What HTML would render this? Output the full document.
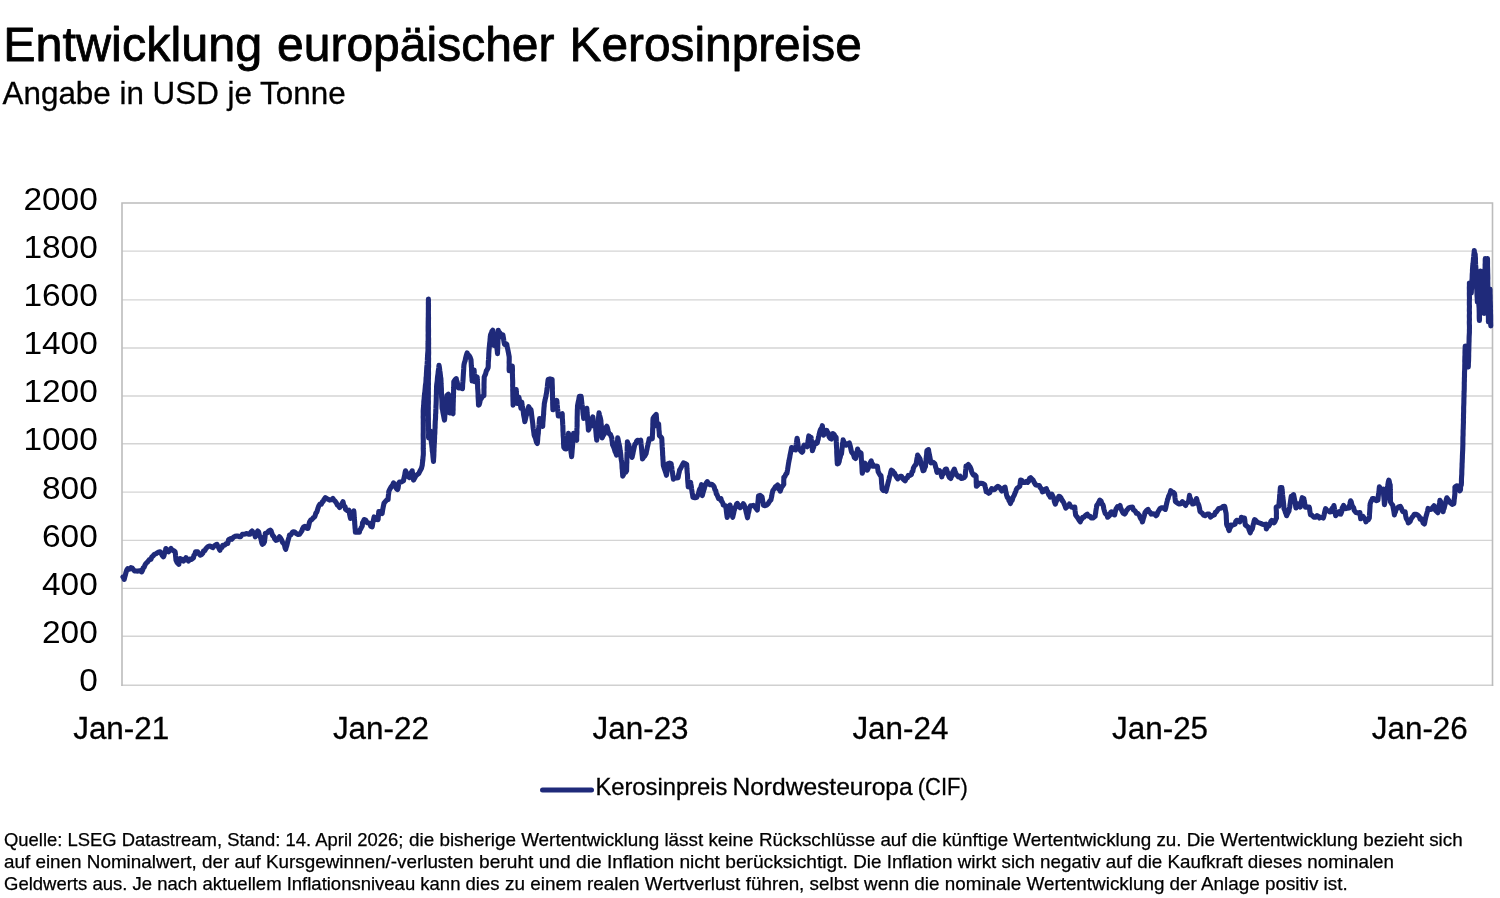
<!DOCTYPE html>
<html lang="de"><head><meta charset="utf-8"><title>Entwicklung europäischer Kerosinpreise</title>
<style>html,body{margin:0;padding:0;background:#fff}body{width:1500px;height:898px;position:relative;overflow:hidden}</style></head>
<body>
<svg width="1500" height="898" viewBox="0 0 1500 898" style="position:absolute;left:0;top:0;font-family:'Liberation Sans',sans-serif">
<rect width="1500" height="898" fill="#fff"/>
<line x1="122.0" x2="1492.5" y1="636.20" y2="636.20" stroke="#d4d4d4" stroke-width="1.35"/>
<line x1="122.0" x2="1492.5" y1="588.40" y2="588.40" stroke="#d4d4d4" stroke-width="1.35"/>
<line x1="122.0" x2="1492.5" y1="540.30" y2="540.30" stroke="#d4d4d4" stroke-width="1.35"/>
<line x1="122.0" x2="1492.5" y1="492.05" y2="492.05" stroke="#d4d4d4" stroke-width="1.35"/>
<line x1="122.0" x2="1492.5" y1="443.70" y2="443.70" stroke="#d4d4d4" stroke-width="1.35"/>
<line x1="122.0" x2="1492.5" y1="396.00" y2="396.00" stroke="#d4d4d4" stroke-width="1.35"/>
<line x1="122.0" x2="1492.5" y1="348.00" y2="348.00" stroke="#d4d4d4" stroke-width="1.35"/>
<line x1="122.0" x2="1492.5" y1="299.90" y2="299.90" stroke="#d4d4d4" stroke-width="1.35"/>
<line x1="122.0" x2="1492.5" y1="251.15" y2="251.15" stroke="#d4d4d4" stroke-width="1.35"/>
<line x1="121.3" x2="1493.2" y1="685.3" y2="685.3" stroke="#d0d0d0" stroke-width="1.5"/>
<path d="M122.0,685.9 V203.03 H1492.5 V685.9" fill="none" stroke="#bcbcbc" stroke-width="1.6" stroke-linejoin="miter"/>
<text x="97.8" y="691.1" font-size="32.2" text-anchor="end" textLength="18.6" lengthAdjust="spacingAndGlyphs" fill="#000">0</text>
<text x="97.8" y="642.9" font-size="32.2" text-anchor="end" textLength="55.800000000000004" lengthAdjust="spacingAndGlyphs" fill="#000">200</text>
<text x="97.8" y="594.8" font-size="32.2" text-anchor="end" textLength="55.800000000000004" lengthAdjust="spacingAndGlyphs" fill="#000">400</text>
<text x="97.8" y="546.6" font-size="32.2" text-anchor="end" textLength="55.800000000000004" lengthAdjust="spacingAndGlyphs" fill="#000">600</text>
<text x="97.8" y="498.5" font-size="32.2" text-anchor="end" textLength="55.800000000000004" lengthAdjust="spacingAndGlyphs" fill="#000">800</text>
<text x="97.8" y="450.3" font-size="32.2" text-anchor="end" textLength="74.4" lengthAdjust="spacingAndGlyphs" fill="#000">1000</text>
<text x="97.8" y="402.1" font-size="32.2" text-anchor="end" textLength="74.4" lengthAdjust="spacingAndGlyphs" fill="#000">1200</text>
<text x="97.8" y="354.0" font-size="32.2" text-anchor="end" textLength="74.4" lengthAdjust="spacingAndGlyphs" fill="#000">1400</text>
<text x="97.8" y="305.8" font-size="32.2" text-anchor="end" textLength="74.4" lengthAdjust="spacingAndGlyphs" fill="#000">1600</text>
<text x="97.8" y="257.7" font-size="32.2" text-anchor="end" textLength="74.4" lengthAdjust="spacingAndGlyphs" fill="#000">1800</text>
<text x="97.8" y="209.5" font-size="32.2" text-anchor="end" textLength="74.4" lengthAdjust="spacingAndGlyphs" fill="#000">2000</text>
<text x="121.2" y="739.4" font-size="31" text-anchor="middle" textLength="96" lengthAdjust="spacingAndGlyphs" fill="#000" stroke="#000" stroke-width="0.3">Jan-21</text>
<text x="380.9" y="739.4" font-size="31" text-anchor="middle" textLength="96" lengthAdjust="spacingAndGlyphs" fill="#000" stroke="#000" stroke-width="0.3">Jan-22</text>
<text x="640.6" y="739.4" font-size="31" text-anchor="middle" textLength="96" lengthAdjust="spacingAndGlyphs" fill="#000" stroke="#000" stroke-width="0.3">Jan-23</text>
<text x="900.4" y="739.4" font-size="31" text-anchor="middle" textLength="96" lengthAdjust="spacingAndGlyphs" fill="#000" stroke="#000" stroke-width="0.3">Jan-24</text>
<text x="1160.1" y="739.4" font-size="31" text-anchor="middle" textLength="96" lengthAdjust="spacingAndGlyphs" fill="#000" stroke="#000" stroke-width="0.3">Jan-25</text>
<text x="1419.8" y="739.4" font-size="31" text-anchor="middle" textLength="96" lengthAdjust="spacingAndGlyphs" fill="#000" stroke="#000" stroke-width="0.3">Jan-26</text>
<path d="M123.0,576.9 L123.49,577.42 L124.2,579.4 L124.72,577.2 L125.21,575.61 L125.63,573.89 L126.13,571.98 L126.7,570.2 L127.84,568.51 L129.45,569.22 L130.9,567.7 L132.34,568.22 L134.31,570.84 L135.9,571.0 L137.88,571.08 L140.05,570.65 L141.7,571.9 L142.76,569.78 L143.17,567.74 L144.11,567.52 L144.87,565.35 L145.9,563.5 L147.65,561.83 L149.26,559.78 L150.9,559.3 L151.77,557.02 L153.27,555.81 L154.3,554.3 L156.12,553.65 L158.14,552.21 L160.1,551.8 L161.38,553.88 L162.15,555.29 L163.4,556.8 L164.04,555.51 L164.79,552.2 L165.56,549.77 L165.9,548.5 L167.15,550.69 L168.5,551.8 L169.54,550.13 L171.0,548.5 L172.09,549.95 L173.89,550.85 L175.1,551.8 L175.39,553.74 L175.58,556.08 L175.79,558.06 L176.0,560.2 L177.14,562.53 L177.85,563.34 L178.8,564.4 L179.16,562.6 L179.69,560.88 L180.1,558.5 L181.99,559.3 L183.5,561.0 L184.68,559.7 L186.0,557.7 L186.96,559.27 L188.5,561.0 L189.97,559.1 L191.57,559.36 L193.5,557.7 L193.94,555.2 L194.77,554.55 L195.5,551.8 L197.7,551.8 L198.7,553.39 L200.2,555.2 L201.39,554.67 L202.71,553.28 L203.55,551.0 L204.76,550.65 L206.0,548.5 L207.67,546.93 L208.61,546.27 L210.2,546.0 L211.29,546.82 L212.7,547.7 L214.15,546.07 L215.2,545.26 L216.9,544.3 L217.57,545.91 L218.67,547.65 L219.16,548.97 L219.9,550.2 L220.94,547.6 L222.01,547.45 L222.7,545.2 L224.59,545.26 L225.97,543.85 L227.7,543.5 L228.03,542.38 L228.57,539.79 L229.4,539.3 L230.48,538.59 L231.9,539.3 L233.47,537.26 L234.93,536.37 L236.9,536.0 L237.91,536.11 L239.4,536.8 L240.52,536.75 L242.27,534.4 L243.6,534.3 L245.12,533.98 L246.85,533.51 L248.6,534.3 L249.94,534.24 L250.85,532.07 L252.0,531.0 L252.58,531.61 L253.56,533.41 L254.67,534.64 L255.3,536.8 L255.85,535.81 L256.98,532.19 L257.8,531.0 L258.66,531.94 L259.48,535.87 L260.3,536.8 L260.86,538.84 L261.26,540.44 L261.75,542.65 L262.3,544.3 L263.42,543.64 L264.5,541.8 L264.67,539.49 L264.95,538.06 L265.16,535.83 L265.3,533.5 L267.16,532.87 L268.47,531.27 L270.3,530.1 L271.05,530.79 L271.7,533.0 L272.68,535.54 L273.93,536.71 L274.5,538.5 L276.01,540.32 L277.0,540.1 L278.52,538.17 L279.5,536.8 L280.38,537.9 L281.42,539.53 L282.72,542.67 L283.7,543.5 L284.57,545.39 L285.13,548.0 L285.7,549.3 L286.18,547.41 L286.85,545.48 L287.37,543.2 L287.82,541.43 L288.39,539.41 L289.03,537.04 L289.5,535.1 L290.84,534.94 L292.43,532.21 L293.7,531.8 L294.73,531.92 L296.2,533.5 L298.09,534.54 L299.5,534.3 L300.34,533.11 L301.89,530.88 L302.56,528.78 L303.7,526.8 L304.88,526.35 L306.78,528.25 L307.9,528.5 L308.33,527.19 L308.74,525.46 L309.23,523.23 L309.6,521.8 L310.7,520.12 L311.94,519.48 L313.21,517.88 L314.6,516.8 L315.08,515.84 L315.91,513.08 L316.75,512.2 L317.35,510.41 L318.1,507.78 L318.8,505.9 L320.06,504.04 L321.3,504.2 L322.29,501.88 L323.05,501.53 L324.18,499.19 L325.4,497.6 L326.94,498.55 L328.1,499.31 L329.6,500.1 L331.28,499.85 L332.9,498.4 L333.78,500.06 L334.98,501.0 L336.41,503.02 L337.4,505.08 L338.73,505.95 L339.6,507.6 L340.52,506.14 L341.31,505.05 L342.12,503.24 L343.0,501.7 L343.61,504.5 L344.37,506.24 L345.14,506.82 L345.5,509.2 L347.19,510.58 L348.8,510.1 L349.28,511.87 L349.59,514.2 L350.01,516.11 L350.5,518.4 L351.07,516.88 L352.32,515.48 L352.77,513.23 L353.8,510.9 L353.99,512.74 L354.18,515.57 L354.24,517.7 L354.42,519.45 L354.68,521.88 L354.71,523.68 L354.92,525.74 L355.03,527.87 L355.28,529.76 L355.4,532.3 L357.43,532.17 L359.4,532.3 L359.78,530.13 L360.82,528.7 L361.15,527.88 L362.26,526.03 L362.52,522.74 L363.15,522.0 L364.1,519.6 L365.5,519.92 L367.12,522.66 L368.7,522.9 L370.02,523.73 L370.76,526.45 L372.1,526.9 L372.51,525.07 L372.83,522.53 L373.33,520.84 L373.63,519.27 L374.1,516.9 L375.51,518.43 L376.52,519.45 L378.1,519.6 L378.21,517.88 L378.44,515.41 L378.63,513.88 L378.8,511.5 L380.31,511.72 L382.1,513.5 L382.5,511.16 L382.84,508.98 L383.23,506.89 L383.67,504.86 L384.1,502.9 L385.59,501.33 L386.77,499.96 L388.1,499.5 L388.25,497.1 L388.41,495.09 L388.66,493.54 L388.8,491.5 L389.55,489.71 L390.94,487.19 L391.81,486.14 L392.56,485.24 L393.5,482.8 L394.44,484.49 L395.61,487.16 L396.41,488.52 L397.5,489.5 L398.12,487.94 L398.44,485.48 L398.73,483.17 L399.5,482.1 L401.24,481.96 L403.5,480.8 L403.86,478.52 L404.23,477.09 L404.76,474.94 L405.07,472.58 L405.5,470.8 L406.38,472.39 L407.29,474.04 L408.36,476.79 L409.5,477.5 L410.46,475.92 L410.7,475.13 L411.41,472.17 L412.2,470.8 L412.38,472.56 L412.72,474.52 L412.93,476.38 L413.16,478.04 L413.5,480.1 L414.58,478.24 L415.88,475.8 L417.36,474.59 L418.8,473.5 L419.7,471.54 L420.65,469.78 L421.48,468.22 L422.2,465.4 L422.4,463.17 L422.72,460.95 L422.9,459.28 L423.01,457.36 L423.3,455.0 L423.36,453.01 L423.33,451.07 L423.23,448.73 L423.28,446.9 L423.32,444.8 L423.28,442.76 L423.3,440.5 L423.22,437.84 L423.2,436.03 L423.19,434.33 L423.26,432.06 L423.26,430.01 L423.24,427.34 L423.28,425.88 L423.23,423.6 L423.25,421.11 L423.26,419.17 L423.15,417.09 L423.25,414.94 L423.24,413.49 L423.2,411.0 L423.33,409.07 L423.46,407.49 L423.64,405.6 L423.76,403.31 L423.81,401.63 L424.0,400.0 L424.24,397.84 L424.41,395.59 L424.53,393.81 L424.83,392.16 L425.03,389.82 L425.2,387.97 L425.39,385.68 L425.66,383.75 L425.88,382.37 L426.0,380.0 L426.07,377.82 L426.34,376.11 L426.42,373.38 L426.53,371.8 L426.67,369.35 L426.8,367.16 L427.07,364.69 L427.19,362.86 L427.35,360.89 L427.39,358.91 L427.57,356.03 L427.63,354.28 L427.85,351.98 L428.0,350.0 L427.96,347.74 L428.0,346.04 L427.97,343.84 L428.12,341.18 L428.15,339.55 L428.16,337.07 L428.1,335.04 L428.21,333.07 L428.13,330.81 L428.13,328.37 L428.12,326.91 L428.17,324.87 L428.18,322.18 L428.24,319.99 L428.23,318.51 L428.33,316.26 L428.3,314.22 L428.37,311.79 L428.35,309.25 L428.37,307.46 L428.39,305.5 L428.33,302.87 L428.45,300.81 L428.4,299.0 L428.4,300.99 L428.38,303.45 L428.5,305.17 L428.46,307.33 L428.45,309.54 L428.4,311.47 L428.41,314.22 L428.47,315.76 L428.54,318.54 L428.48,319.95 L428.44,322.03 L428.47,324.16 L428.47,326.42 L428.53,329.08 L428.56,330.8 L428.52,333.02 L428.52,334.99 L428.48,337.06 L428.63,339.06 L428.57,341.61 L428.63,343.39 L428.55,345.54 L428.58,347.83 L428.6,350.0 L428.66,352.44 L428.64,353.88 L428.49,356.6 L428.62,358.55 L428.56,360.29 L428.52,363.22 L428.58,365.3 L428.59,366.93 L428.44,369.0 L428.5,371.58 L428.55,373.76 L428.5,375.94 L428.45,377.9 L428.38,380.24 L428.4,382.5 L428.45,384.12 L428.36,386.22 L428.43,388.74 L428.33,390.35 L428.39,392.93 L428.36,394.77 L428.38,396.73 L428.32,399.25 L428.42,401.55 L428.39,403.55 L428.28,405.5 L428.38,408.03 L428.3,410.0 L428.29,411.75 L428.35,414.45 L428.36,416.26 L428.42,418.97 L428.37,420.38 L428.41,422.86 L428.49,424.82 L428.53,427.43 L428.51,429.14 L428.61,431.38 L428.61,433.47 L428.53,436.06 L428.6,438.0 L428.97,436.63 L429.4,434.24 L429.76,432.68 L430.2,431.0 L430.46,433.55 L430.61,435.25 L430.86,437.91 L431.09,439.31 L431.31,441.77 L431.68,444.35 L431.89,446.62 L432.15,448.23 L432.27,450.91 L432.6,452.32 L432.82,454.78 L433.01,456.92 L433.21,458.81 L433.5,461.4 L433.56,459.16 L433.76,456.84 L433.86,454.79 L433.86,453.19 L434.03,450.74 L434.0,448.66 L434.15,446.91 L434.22,444.33 L434.43,441.93 L434.45,440.46 L434.6,437.69 L434.58,435.59 L434.82,433.64 L434.88,432.05 L434.91,429.41 L435.11,427.58 L435.09,425.54 L435.2,423.05 L435.24,421.33 L435.49,419.11 L435.59,416.48 L435.57,414.74 L435.78,413.02 L435.79,410.31 L435.9,408.4 L435.96,406.25 L436.11,403.84 L436.17,402.16 L436.24,400.05 L436.28,397.53 L436.31,395.41 L436.45,393.03 L436.43,391.45 L436.51,388.73 L436.55,386.99 L436.7,384.8 L436.93,383.04 L437.27,380.88 L437.43,377.95 L437.66,376.13 L438.01,373.92 L438.19,371.73 L438.51,369.78 L438.78,367.76 L439.0,365.3 L439.3,366.88 L439.6,368.93 L439.82,370.89 L440.12,372.65 L440.32,374.59 L440.57,377.02 L440.9,378.6 L441.0,380.57 L441.05,383.24 L441.16,384.72 L441.29,387.19 L441.41,388.84 L441.41,391.55 L441.55,393.75 L441.51,395.34 L441.61,397.37 L441.83,399.81 L441.91,401.75 L441.99,403.93 L441.98,406.32 L442.1,408.2 L442.57,409.85 L442.92,412.27 L443.25,414.04 L443.64,415.88 L444.06,418.2 L444.5,420.1 L444.72,417.82 L444.81,415.89 L445.1,413.74 L445.24,411.72 L445.51,409.97 L445.58,407.57 L445.82,405.91 L446.06,403.49 L446.17,401.96 L446.4,399.58 L446.58,398.11 L446.8,395.7 L448.4,394.2 L448.5,396.33 L448.64,398.29 L448.86,400.85 L448.91,402.26 L449.1,404.34 L449.12,407.0 L449.32,409.01 L449.45,411.14 L449.6,412.9 L451.28,412.59 L453.0,413.7 L452.98,411.61 L453.13,409.78 L453.09,407.4 L453.19,405.17 L453.21,402.85 L453.32,401.26 L453.31,398.76 L453.48,397.03 L453.43,394.19 L453.6,392.77 L453.58,389.86 L453.71,388.01 L453.76,386.07 L453.8,383.55 L453.8,381.7 L455.17,379.57 L456.2,378.6 L456.64,380.75 L457.17,382.05 L457.53,384.1 L458.04,385.94 L458.5,387.9 L460.22,387.77 L462.4,388.7 L462.58,386.84 L462.62,384.37 L462.88,381.74 L463.04,379.62 L463.14,377.79 L463.29,375.39 L463.41,373.43 L463.55,371.31 L463.7,368.93 L463.78,366.89 L464.0,364.6 L464.51,362.43 L465.08,360.94 L465.54,358.48 L466.06,356.47 L466.52,354.79 L467.1,352.9 L467.83,354.53 L469.06,355.44 L470.11,357.27 L471.0,359.9 L471.15,362.23 L471.22,363.73 L471.33,366.1 L471.51,367.99 L471.61,370.82 L471.7,372.76 L471.72,375.0 L471.88,377.08 L472.06,378.52 L472.1,380.9 L472.48,379.45 L472.7,377.14 L473.14,375.16 L473.5,373.44 L473.82,371.52 L474.1,370.0 L474.23,372.3 L474.32,373.7 L474.5,375.7 L474.56,377.53 L474.71,380.12 L474.9,381.7 L475.77,380.96 L476.23,379.16 L477.2,377.0 L477.24,379.19 L477.42,381.21 L477.56,383.53 L477.61,385.97 L477.64,388.22 L477.82,389.88 L477.95,391.93 L478.08,394.36 L478.08,396.68 L478.19,398.34 L478.34,400.4 L478.45,402.73 L478.5,405.1 L479.23,404.57 L479.85,402.34 L480.34,399.4 L481.1,398.9 L482.22,396.56 L483.9,395.7 L483.95,393.57 L483.97,391.88 L483.94,389.24 L484.06,386.99 L483.99,385.19 L484.04,383.11 L484.09,381.23 L484.18,378.83 L484.2,377.0 L485.05,375.09 L485.54,374.2 L486.39,370.68 L487.08,369.85 L488.1,367.7 L488.26,365.99 L488.28,363.6 L488.32,361.97 L488.51,359.77 L488.62,357.9 L488.77,356.2 L488.76,354.39 L488.9,352.1 L489.03,349.98 L489.28,347.58 L489.43,345.88 L489.62,343.54 L489.97,341.05 L490.05,339.29 L490.3,337.17 L490.5,334.9 L491.45,332.65 L491.92,331.35 L492.8,330.2 L492.91,332.71 L493.22,334.75 L493.28,337.05 L493.58,338.91 L493.77,341.09 L493.87,342.98 L494.1,345.5 L494.26,343.25 L494.47,341.98 L494.73,340.19 L494.93,337.84 L495.11,336.11 L495.3,334.3 L495.59,336.46 L495.75,338.71 L496.11,340.5 L496.34,342.47 L496.48,344.8 L496.81,347.54 L497.05,349.17 L497.32,351.31 L497.5,353.6 L497.53,351.82 L497.67,349.51 L497.74,347.62 L497.79,345.38 L497.9,343.26 L497.93,341.03 L498.02,338.55 L498.04,336.68 L498.09,334.8 L498.17,331.93 L498.3,330.2 L498.84,332.68 L499.76,332.6 L500.34,333.96 L501.4,336.5 L502.9,334.9 L503.25,336.89 L503.57,338.86 L503.79,340.62 L504.16,342.69 L504.5,344.3 L505.84,345.12 L506.8,344.3 L507.13,346.69 L507.67,348.84 L507.94,350.3 L508.34,352.24 L508.86,354.98 L509.2,356.8 L509.22,359.07 L509.22,360.62 L509.14,362.46 L509.24,364.55 L509.17,366.74 L509.12,368.6 L509.2,370.8 L510.1,369.69 L511.19,367.29 L512.3,366.1 L512.42,368.27 L512.45,370.53 L512.36,372.53 L512.47,375.0 L512.5,377.11 L512.57,378.86 L512.67,380.92 L512.71,383.16 L512.62,385.35 L512.79,388.17 L512.71,389.93 L512.83,392.35 L512.83,394.26 L512.9,396.71 L512.93,398.97 L512.98,400.53 L513.09,402.93 L513.1,405.1 L513.43,403.26 L513.81,401.44 L514.29,399.49 L514.67,397.18 L515.02,395.26 L515.49,393.05 L515.87,391.05 L516.2,389.5 L516.27,391.3 L516.49,393.5 L516.52,395.82 L516.61,397.47 L516.78,399.71 L516.93,401.62 L517.0,403.5 L517.54,401.07 L518.06,400.09 L518.9,397.3 L519.26,399.32 L519.51,400.88 L519.94,402.82 L520.17,404.53 L520.63,406.16 L520.9,408.2 L521.12,405.97 L521.47,404.36 L521.7,402.0 L521.95,403.67 L522.28,405.77 L522.63,407.6 L522.91,409.58 L523.33,411.99 L523.5,414.15 L523.81,415.62 L524.26,417.93 L524.53,419.59 L524.8,421.6 L525.24,419.85 L525.71,417.63 L526.24,415.62 L526.73,414.39 L527.27,412.29 L527.75,410.39 L528.16,408.65 L528.7,406.7 L529.79,408.76 L531.0,409.8 L531.32,411.83 L531.53,414.19 L531.76,415.85 L532.07,418.49 L532.34,420.43 L532.61,422.5 L532.83,424.4 L533.04,426.64 L533.26,428.56 L533.63,430.9 L533.86,432.6 L534.1,434.9 L534.69,436.53 L535.45,438.15 L536.13,440.96 L536.47,442.1 L537.3,443.5 L537.54,441.32 L537.68,439.73 L537.8,437.29 L538.01,435.4 L538.33,433.1 L538.39,431.06 L538.65,429.1 L538.84,426.95 L539.08,424.77 L539.2,423.04 L539.36,420.74 L539.6,418.5 L540.31,421.0 L540.92,423.42 L541.84,423.42 L542.7,426.3 L542.81,424.16 L542.91,422.12 L543.12,420.3 L543.26,417.88 L543.38,416.23 L543.64,414.0 L543.67,412.17 L543.85,409.62 L543.95,408.04 L544.2,405.87 L544.3,403.7 L544.68,401.9 L545.02,400.39 L545.43,398.27 L545.88,396.57 L546.21,394.28 L546.6,392.6 L546.84,390.4 L547.11,388.71 L547.34,386.75 L547.49,384.85 L547.73,382.91 L547.89,381.47 L548.2,379.4 L550.02,378.86 L552.1,379.4 L552.13,381.55 L552.2,383.86 L552.3,385.8 L552.4,388.38 L552.31,390.53 L552.51,392.67 L552.44,394.88 L552.58,396.36 L552.54,399.32 L552.7,400.9 L552.66,402.99 L552.74,405.69 L552.82,407.34 L552.9,409.8 L553.92,408.53 L554.26,406.86 L555.31,404.75 L556.12,403.11 L556.8,400.4 L557.03,402.63 L557.13,404.46 L557.37,406.45 L557.54,408.52 L557.75,409.95 L557.88,411.8 L558.11,413.68 L558.3,416.0 L559.58,414.49 L560.89,414.46 L562.2,413.7 L562.31,416.11 L562.32,418.2 L562.49,420.07 L562.63,422.41 L562.68,424.16 L562.87,425.98 L562.92,428.56 L562.92,430.64 L563.13,433.02 L563.17,435.17 L563.3,436.86 L563.46,438.58 L563.53,441.19 L563.57,443.49 L563.68,445.27 L563.8,447.4 L564.97,448.72 L566.1,448.9 L566.35,446.9 L566.69,445.05 L567.05,442.88 L567.35,441.02 L567.6,438.96 L567.9,437.6 L568.22,435.5 L568.5,433.3 L568.75,435.27 L569.03,437.63 L569.37,439.92 L569.55,442.0 L569.97,443.97 L570.12,445.9 L570.39,447.93 L570.82,450.41 L571.06,452.69 L571.38,454.67 L571.6,456.7 L571.8,454.67 L572.0,452.51 L572.17,450.05 L572.35,448.12 L572.55,445.68 L572.64,443.49 L572.92,442.09 L573.08,439.5 L573.29,437.71 L573.43,435.13 L573.6,433.2 L574.26,434.79 L575.04,436.55 L576.01,439.36 L576.7,440.2 L576.68,438.11 L576.73,435.59 L576.9,433.83 L576.97,431.58 L576.87,429.39 L577.01,427.71 L577.13,425.17 L577.09,422.72 L577.17,420.66 L577.14,418.36 L577.17,416.77 L577.24,414.87 L577.28,412.64 L577.34,409.78 L577.49,407.83 L577.5,405.9 L577.92,403.7 L578.19,402.25 L578.67,400.38 L579.06,397.79 L579.4,396.2 L581.1,396.2 L581.32,398.13 L581.5,399.7 L581.74,402.14 L581.95,404.25 L582.27,405.52 L582.4,408.14 L582.77,409.74 L582.94,412.36 L583.16,414.55 L583.45,415.95 L583.7,418.4 L584.24,416.54 L584.9,414.73 L585.35,412.96 L586.1,410.62 L586.8,408.3 L586.98,410.41 L587.1,412.9 L587.35,415.08 L587.45,416.85 L587.53,419.6 L587.79,421.66 L587.89,423.65 L588.16,426.02 L588.26,427.76 L588.4,430.1 L588.99,429.02 L589.58,426.69 L590.35,425.23 L591.1,422.04 L591.24,420.1 L592.12,418.88 L592.8,416.8 L593.07,419.01 L593.17,420.84 L593.51,422.75 L593.69,424.13 L593.9,426.2 L595.4,426.2 L595.64,428.46 L595.8,430.55 L595.93,431.85 L596.15,434.45 L596.28,436.41 L596.58,437.98 L596.7,440.2 L596.89,438.25 L597.05,435.75 L597.19,434.11 L597.45,431.77 L597.52,429.96 L597.81,427.38 L597.95,425.83 L598.18,423.42 L598.29,421.38 L598.42,418.94 L598.6,417.27 L598.8,415.05 L599.0,412.9 L599.46,414.86 L599.89,416.42 L600.5,418.64 L600.9,420.7 L600.99,422.96 L601.25,424.71 L601.37,427.02 L601.5,428.9 L601.58,431.86 L601.86,433.59 L601.96,435.55 L602.1,437.9 L603.05,435.79 L603.93,434.56 L604.64,433.02 L605.09,429.13 L605.84,427.48 L606.8,426.2 L607.23,427.21 L608.18,430.88 L608.8,432.99 L609.5,434.0 L610.51,434.38 L611.09,436.38 L611.8,437.9 L611.94,440.04 L612.16,441.45 L612.42,443.53 L612.6,444.9 L613.48,446.72 L614.13,448.27 L615.22,452.05 L615.55,452.09 L616.5,455.1 L616.61,452.83 L616.86,451.14 L617.0,448.27 L617.15,446.68 L617.27,444.76 L617.33,441.9 L617.59,440.42 L617.7,437.9 L618.11,439.45 L618.47,441.56 L618.78,442.91 L619.18,444.46 L619.6,446.5 L619.88,448.36 L620.13,450.48 L620.49,452.5 L620.78,454.79 L620.96,457.55 L621.28,459.69 L621.67,461.79 L621.9,463.6 L621.98,465.64 L622.1,468.13 L622.35,469.96 L622.43,471.8 L622.62,474.0 L622.7,476.1 L623.75,474.0 L624.48,472.47 L625.75,472.16 L626.6,470.7 L626.6,468.95 L626.68,466.5 L626.72,464.31 L626.88,462.3 L626.83,460.37 L626.91,458.65 L626.94,456.65 L626.99,454.52 L627.14,451.88 L627.17,449.88 L627.19,447.74 L627.26,446.34 L627.42,444.22 L627.4,441.8 L627.75,443.31 L628.81,444.77 L629.3,447.22 L630.04,448.58 L630.52,451.22 L630.71,452.45 L631.71,455.51 L632.1,457.4 L632.43,455.53 L632.93,453.53 L633.26,451.65 L633.58,450.36 L634.05,448.06 L634.4,446.5 L634.92,444.06 L636.02,443.34 L636.59,441.16 L637.5,440.2 L639.17,440.64 L640.7,440.2 L640.95,442.36 L641.05,444.01 L641.34,446.39 L641.54,448.18 L641.75,450.51 L641.95,453.04 L642.1,454.42 L642.37,456.89 L642.5,459.0 L643.92,456.68 L644.71,456.03 L646.1,453.5 L646.52,451.1 L646.97,449.35 L647.35,447.17 L647.86,445.06 L648.25,443.11 L648.81,441.12 L649.2,438.7 L650.64,439.14 L652.3,438.7 L652.36,436.88 L652.39,434.95 L652.61,432.61 L652.62,430.61 L652.71,428.15 L652.85,426.29 L652.81,424.16 L652.9,422.73 L652.94,420.09 L653.1,418.4 L654.25,416.46 L654.88,416.01 L656.2,414.5 L656.35,416.47 L656.5,418.07 L656.66,420.53 L656.66,421.98 L656.87,424.25 L657.0,426.2 L657.67,424.26 L658.6,423.9 L658.72,425.55 L658.88,428.1 L658.94,429.81 L659.17,431.42 L659.32,434.02 L659.4,435.6 L660.48,436.58 L661.7,437.9 L661.88,440.02 L661.93,442.47 L662.11,444.06 L662.15,446.16 L662.31,448.8 L662.49,450.85 L662.61,452.89 L662.61,454.71 L662.88,457.16 L662.89,458.83 L663.08,460.89 L663.18,462.74 L663.3,465.2 L663.88,467.23 L664.25,468.48 L665.44,471.84 L666.04,473.56 L666.4,475.3 L666.7,473.67 L666.96,471.01 L667.17,469.25 L667.43,467.31 L667.66,465.91 L667.9,463.6 L669.57,463.08 L671.1,463.6 L671.39,465.49 L671.75,467.32 L671.93,469.57 L672.19,471.48 L672.61,473.36 L672.79,475.27 L673.12,476.95 L673.4,479.2 L674.74,477.93 L676.41,478.0 L678.1,477.7 L678.44,475.53 L678.78,473.84 L679.28,471.94 L679.6,469.9 L680.62,468.47 L681.37,466.84 L682.5,464.75 L683.5,462.9 L685.17,463.58 L686.7,464.4 L686.81,466.24 L686.93,468.52 L687.09,470.64 L687.17,472.49 L687.44,474.45 L687.53,476.72 L687.62,479.19 L687.76,481.06 L687.87,482.53 L688.12,484.9 L688.2,487.0 L688.74,485.2 L689.76,484.36 L690.6,482.3 L690.87,484.2 L691.33,486.76 L691.53,488.55 L691.89,490.96 L692.26,493.24 L692.62,495.09 L692.9,497.2 L694.99,497.71 L696.8,497.2 L697.63,495.36 L698.31,494.07 L699.06,491.06 L699.71,489.02 L700.32,488.45 L700.83,487.46 L701.5,484.7 L701.67,486.81 L701.87,489.37 L702.0,491.14 L702.13,493.38 L702.3,495.6 L702.8,493.71 L703.2,492.21 L703.66,490.29 L704.19,489.01 L704.6,487.0 L705.5,485.08 L706.21,482.99 L707.3,481.6 L708.49,483.31 L710.1,484.7 L711.7,484.23 L713.2,485.5 L714.22,487.02 L714.95,489.98 L715.79,490.54 L716.24,493.91 L716.76,493.98 L717.87,496.81 L718.6,498.7 L720.05,499.27 L721.0,498.7 L721.6,501.32 L722.16,501.89 L722.84,503.19 L723.3,505.0 L724.41,505.55 L725.7,505.7 L725.93,508.03 L726.23,509.62 L726.39,511.44 L726.68,513.55 L726.96,515.77 L727.2,517.4 L727.74,515.32 L728.12,513.37 L728.68,511.07 L729.07,509.4 L729.48,506.91 L730.0,505.0 L730.53,507.34 L730.9,508.81 L731.41,511.36 L731.85,513.68 L732.31,515.27 L732.7,517.4 L733.11,515.2 L733.62,513.36 L734.03,511.07 L734.56,509.41 L735.0,507.3 L735.71,507.04 L736.68,503.74 L737.4,503.4 L738.25,505.4 L739.08,506.6 L740.1,507.6 L740.87,505.89 L742.44,505.18 L743.3,503.7 L744.17,504.9 L744.83,507.48 L745.6,509.2 L745.94,511.04 L746.37,513.06 L746.75,514.29 L747.06,515.79 L747.5,517.8 L747.94,515.43 L748.24,513.44 L748.7,511.95 L749.12,509.9 L749.5,507.6 L750.54,505.81 L752.26,505.69 L753.4,505.3 L754.83,506.56 L755.8,507.94 L757.3,510.0 L757.41,508.32 L757.66,505.84 L757.81,503.86 L757.91,502.27 L758.17,500.31 L758.32,498.02 L758.5,495.9 L760.1,495.34 L762.0,496.7 L762.44,499.15 L762.72,501.34 L763.18,502.99 L763.5,505.3 L765.13,505.73 L766.63,505.18 L768.2,503.7 L768.95,502.17 L770.13,500.51 L770.9,499.8 L771.27,498.26 L771.7,496.33 L772.06,493.95 L772.48,492.1 L772.9,490.5 L774.36,488.69 L775.29,486.94 L776.45,486.13 L777.6,485.0 L778.19,485.64 L778.67,488.78 L779.46,489.11 L780.2,491.2 L780.91,489.0 L781.84,486.72 L783.0,485.62 L783.8,484.2 L783.74,482.62 L783.73,480.51 L783.85,478.64 L783.8,477.2 L784.8,476.61 L786.05,473.88 L786.9,473.3 L787.22,471.49 L787.57,469.69 L787.88,467.68 L788.27,465.07 L788.61,462.99 L788.99,461.1 L789.3,459.3 L789.75,457.42 L790.05,455.19 L790.47,453.21 L790.89,451.18 L791.22,449.59 L791.6,447.6 L792.76,448.94 L794.13,449.46 L795.5,449.9 L795.78,447.79 L796.02,445.65 L796.25,444.34 L796.54,442.24 L796.77,440.2 L797.1,438.2 L797.38,440.24 L797.67,441.92 L797.97,444.09 L798.24,446.54 L798.6,448.4 L799.64,449.5 L801.18,451.58 L802.1,452.3 L802.83,451.28 L802.88,448.28 L803.32,447.35 L804.1,445.2 L805.75,445.69 L807.2,446.8 L807.45,445.12 L807.77,442.96 L808.06,441.23 L808.29,439.27 L808.47,438.06 L808.8,435.9 L810.09,437.1 L811.1,437.4 L811.21,438.91 L811.42,440.95 L811.63,443.0 L811.77,444.84 L812.05,446.63 L812.27,448.86 L812.4,450.7 L813.18,448.23 L813.66,447.19 L814.26,443.8 L815.0,442.9 L816.35,443.48 L817.3,442.9 L817.67,440.7 L818.16,439.36 L818.43,437.24 L818.84,435.88 L819.25,434.16 L819.7,432.0 L820.5,429.56 L821.12,428.63 L821.8,427.97 L822.3,425.7 L822.52,427.24 L822.89,429.4 L823.15,431.5 L823.38,433.5 L823.6,435.1 L824.71,433.43 L825.4,432.38 L826.7,430.4 L827.23,432.0 L828.11,432.77 L828.58,434.17 L829.0,436.7 L830.32,438.49 L831.4,439.0 L831.76,437.26 L832.68,435.62 L832.9,433.5 L833.99,434.27 L834.77,435.8 L836.1,437.4 L836.18,439.2 L836.25,441.19 L836.41,443.68 L836.43,445.37 L836.56,447.58 L836.72,449.55 L836.71,452.05 L836.78,453.82 L836.9,456.08 L837.03,458.08 L837.06,460.05 L837.22,461.92 L837.3,464.0 L838.41,463.5 L839.2,461.6 L839.54,459.21 L840.27,457.08 L840.66,455.29 L841.5,453.8 L841.68,451.97 L841.95,449.47 L842.16,447.77 L842.39,445.52 L842.57,443.39 L842.95,442.01 L843.1,439.8 L843.88,442.06 L845.45,443.53 L846.2,445.2 L847.52,444.03 L849.3,442.9 L849.77,444.52 L850.27,446.25 L850.81,448.66 L851.24,450.79 L851.7,452.3 L852.77,453.33 L853.5,454.64 L854.34,457.53 L855.6,458.5 L856.05,456.45 L856.35,454.86 L856.86,453.22 L857.15,451.22 L857.6,449.1 L858.43,451.44 L858.76,452.1 L859.5,454.6 L861.0,453.0 L861.18,454.88 L861.24,457.1 L861.37,459.37 L861.48,460.73 L861.66,463.26 L861.83,465.35 L861.97,467.58 L862.04,469.24 L862.12,471.1 L862.3,473.3 L862.83,470.93 L863.37,468.98 L863.85,467.63 L864.31,464.83 L864.9,463.2 L865.46,464.3 L866.23,465.66 L866.9,469.2 L867.3,470.2 L868.25,468.16 L868.73,466.78 L869.65,464.39 L870.32,462.55 L871.2,460.8 L871.8,463.32 L872.44,463.76 L872.7,466.3 L874.14,466.18 L875.87,465.98 L877.4,466.3 L877.62,467.78 L877.91,469.93 L878.2,471.8 L879.42,473.96 L880.29,475.4 L881.0,475.7 L881.23,477.69 L881.36,479.1 L881.5,481.45 L881.6,483.3 L881.86,485.11 L881.97,486.85 L882.1,488.9 L883.31,490.48 L884.42,489.78 L886.0,491.2 L886.55,489.09 L886.97,487.2 L887.53,485.07 L888.05,482.96 L888.59,480.78 L889.1,478.8 L889.5,476.81 L890.08,475.4 L890.42,473.94 L890.9,471.58 L891.4,470.2 L892.49,470.71 L893.53,472.38 L894.6,473.3 L895.47,475.29 L896.43,476.99 L897.7,478.8 L899.05,477.12 L900.24,476.3 L901.6,476.4 L902.73,478.63 L903.96,479.78 L905.1,480.8 L906.32,478.19 L907.53,477.67 L908.3,475.4 L909.61,475.69 L911.4,474.6 L911.91,472.16 L912.83,471.23 L913.29,468.59 L913.7,467.6 L915.07,465.12 L916.1,464.5 L916.36,462.51 L916.62,460.82 L916.95,458.69 L917.33,456.92 L917.6,455.1 L918.63,456.65 L919.42,457.83 L920.0,459.0 L920.58,461.26 L920.98,463.11 L921.52,465.07 L922.1,467.07 L922.52,468.64 L923.1,470.7 L924.01,470.34 L924.77,467.14 L925.4,466.8 L925.62,464.41 L925.81,462.95 L925.94,461.01 L926.23,458.39 L926.35,456.51 L926.65,454.57 L926.74,452.05 L927.0,450.4 L928.5,449.6 L928.78,451.75 L929.14,453.45 L929.49,455.46 L929.85,456.9 L930.27,459.13 L930.59,461.26 L930.9,462.9 L933.12,462.28 L934.8,463.7 L935.23,465.13 L935.72,467.45 L936.23,468.47 L936.59,470.85 L937.1,472.3 L938.41,471.27 L939.5,470.7 L940.06,471.53 L940.86,473.58 L941.45,475.58 L941.8,476.9 L942.31,474.74 L943.16,474.13 L944.1,471.5 L945.35,469.34 L946.5,469.1 L946.88,470.58 L947.63,472.81 L948.16,474.12 L948.8,476.2 L949.5,477.52 L950.8,478.5 L951.4,475.61 L952.18,475.76 L952.63,472.12 L953.7,470.5 L954.3,469.1 L954.93,470.93 L955.69,472.91 L956.6,474.6 L958.18,476.86 L960.03,476.22 L961.3,478.5 L962.64,478.3 L964.12,477.54 L965.2,476.2 L965.38,474.27 L965.5,471.94 L965.73,470.39 L965.91,468.19 L966.0,466.0 L967.03,465.8 L968.3,464.5 L969.24,465.82 L969.98,466.79 L970.7,468.4 L971.23,469.74 L971.44,471.12 L972.2,473.0 L973.39,475.09 L974.79,474.85 L976.1,476.2 L976.12,478.0 L976.2,479.93 L976.2,482.57 L976.33,484.23 L976.4,486.3 L977.91,484.85 L979.13,483.32 L980.8,483.2 L982.63,483.55 L984.7,484.7 L985.11,486.52 L985.52,488.12 L985.89,490.1 L986.2,491.8 L987.15,491.88 L988.6,493.3 L989.68,492.76 L990.58,490.74 L991.7,488.6 L993.21,489.77 L994.8,489.4 L996.09,487.82 L997.9,486.3 L999.44,487.4 L1000.35,488.43 L1001.8,491.0 L1002.67,489.21 L1004.06,487.81 L1005.0,487.1 L1005.36,488.8 L1005.77,491.31 L1006.15,492.7 L1006.5,494.9 L1007.42,497.59 L1008.12,497.46 L1009.03,500.85 L1009.52,501.02 L1010.4,503.5 L1010.99,501.8 L1012.18,500.24 L1012.98,497.57 L1013.5,496.4 L1014.18,495.22 L1015.15,492.8 L1015.95,490.96 L1016.35,489.42 L1017.4,487.9 L1018.33,487.37 L1019.8,486.3 L1020.04,484.23 L1020.35,481.96 L1020.6,480.1 L1021.73,480.23 L1022.9,482.4 L1024.72,482.53 L1026.33,481.47 L1027.6,482.4 L1028.7,481.3 L1029.56,478.41 L1030.7,477.7 L1031.67,478.7 L1033.21,480.34 L1034.41,482.79 L1035.4,484.7 L1037.37,485.29 L1039.3,485.5 L1040.11,487.41 L1040.91,488.29 L1041.77,489.72 L1042.4,491.8 L1043.83,491.29 L1045.17,489.27 L1046.3,488.6 L1047.24,491.32 L1047.83,491.57 L1048.65,494.69 L1049.2,494.45 L1050.2,497.2 L1050.99,495.98 L1051.8,494.1 L1052.66,495.83 L1053.49,497.57 L1054.05,499.3 L1054.32,501.41 L1055.3,504.2 L1055.91,502.25 L1057.08,499.63 L1058.19,498.07 L1058.8,496.4 L1059.74,496.52 L1061.1,498.0 L1062.03,500.57 L1062.46,500.38 L1063.62,502.51 L1064.52,504.73 L1065.1,506.09 L1065.8,508.1 L1067.18,506.65 L1068.09,506.21 L1069.4,504.0 L1070.31,506.04 L1071.7,507.1 L1072.99,507.41 L1074.8,507.1 L1074.98,509.36 L1075.13,511.05 L1075.39,513.3 L1075.6,514.9 L1077.04,516.92 L1077.78,517.88 L1078.98,520.01 L1080.3,521.9 L1080.91,519.71 L1081.99,519.07 L1082.6,517.2 L1084.05,517.2 L1085.56,515.28 L1087.3,514.1 L1088.39,516.16 L1090.12,516.21 L1091.2,518.0 L1093.3,517.88 L1095.1,516.4 L1095.33,514.44 L1095.63,513.1 L1095.85,511.1 L1096.18,509.09 L1096.45,507.64 L1096.7,505.5 L1097.56,504.51 L1098.68,502.49 L1099.8,500.1 L1101.05,500.97 L1102.09,504.21 L1102.9,504.7 L1103.33,506.02 L1103.76,508.54 L1104.2,510.21 L1104.68,511.78 L1105.2,513.3 L1105.76,513.9 L1106.91,515.04 L1107.6,517.2 L1108.48,516.73 L1109.68,515.3 L1110.81,512.17 L1111.5,511.8 L1112.89,513.96 L1114.6,514.9 L1115.25,511.83 L1115.67,510.14 L1116.2,508.6 L1117.46,506.74 L1118.51,507.56 L1120.1,505.5 L1120.56,507.87 L1121.02,508.62 L1121.61,510.07 L1122.4,511.8 L1123.36,513.34 L1124.7,514.1 L1125.46,513.05 L1126.65,510.19 L1127.54,509.44 L1128.6,507.9 L1130.8,507.18 L1132.5,507.1 L1133.3,509.63 L1134.68,510.69 L1135.29,511.07 L1136.4,513.3 L1137.86,513.59 L1139.6,515.7 L1140.03,517.27 L1140.94,518.92 L1141.62,519.32 L1142.4,521.9 L1142.95,520.15 L1143.45,518.18 L1143.99,516.67 L1144.54,514.56 L1145.0,512.5 L1146.49,510.57 L1148.1,509.4 L1149.08,511.96 L1150.1,512.29 L1151.2,514.1 L1152.71,513.88 L1154.63,514.13 L1155.9,515.7 L1157.0,514.76 L1157.82,512.27 L1159.0,510.2 L1160.13,508.51 L1161.4,507.9 L1163.17,507.84 L1165.3,509.4 L1165.81,507.62 L1166.29,504.98 L1166.71,503.19 L1167.16,501.36 L1167.6,499.3 L1168.11,498.57 L1168.54,496.38 L1169.67,494.16 L1170.14,493.46 L1170.7,490.7 L1171.84,492.01 L1173.45,492.51 L1174.6,493.8 L1174.83,495.66 L1175.0,497.79 L1175.23,499.5 L1175.4,501.6 L1176.78,502.49 L1177.83,503.44 L1179.3,504.0 L1180.71,503.66 L1182.4,501.6 L1183.45,503.37 L1184.55,504.15 L1185.6,505.5 L1186.47,503.18 L1187.92,502.43 L1188.7,500.8 L1188.97,499.02 L1189.28,496.98 L1189.5,495.4 L1189.92,497.8 L1190.72,499.14 L1191.56,501.39 L1192.2,501.32 L1192.6,504.0 L1194.08,503.5 L1195.7,501.6 L1196.29,499.26 L1196.5,498.5 L1196.91,500.0 L1197.5,502.24 L1198.54,504.6 L1198.95,505.71 L1199.6,508.6 L1199.94,511.24 L1200.4,511.8 L1202.08,512.99 L1203.52,515.03 L1205.1,515.7 L1207.21,514.16 L1209.0,514.1 L1209.86,515.37 L1210.5,517.2 L1211.81,515.88 L1213.02,515.33 L1214.4,514.9 L1215.36,512.32 L1216.29,511.91 L1217.5,510.2 L1218.53,508.76 L1220.23,508.19 L1221.4,507.9 L1222.89,506.56 L1224.6,506.3 L1225.03,507.71 L1225.37,510.1 L1225.68,511.49 L1226.1,513.3 L1226.25,515.58 L1226.28,517.28 L1226.39,519.73 L1226.53,521.85 L1226.6,524.2 L1227.19,526.09 L1228.09,527.04 L1228.48,529.09 L1229.2,530.5 L1229.99,528.02 L1230.55,527.28 L1230.8,525.0 L1231.87,525.35 L1233.1,525.0 L1235.1,524.2 L1235.8,521.35 L1236.7,520.3 L1238.4,520.85 L1239.8,521.9 L1240.35,520.33 L1241.11,519.31 L1241.4,517.2 L1242.67,517.79 L1244.5,518.0 L1244.69,519.72 L1244.95,521.43 L1245.1,523.58 L1245.3,525.0 L1246.81,526.13 L1248.4,527.3 L1249.04,529.82 L1249.77,531.47 L1250.3,532.8 L1250.87,530.29 L1251.66,529.81 L1252.34,528.72 L1252.8,526.6 L1253.19,524.62 L1253.63,523.37 L1254.09,521.0 L1254.6,519.6 L1256.05,520.77 L1256.93,522.05 L1258.5,522.7 L1260.58,523.41 L1262.4,524.2 L1263.88,524.6 L1265.9,524.2 L1266.02,525.84 L1266.25,527.6 L1266.3,528.9 L1267.5,526.81 L1268.15,526.24 L1268.93,525.88 L1270.2,523.5 L1270.86,521.4 L1271.8,520.3 L1272.84,520.99 L1274.1,522.7 L1275.12,521.25 L1275.71,519.4 L1276.5,518.0 L1276.37,515.66 L1276.44,513.89 L1276.38,511.26 L1276.21,508.9 L1276.2,507.1 L1277.52,506.43 L1278.8,506.3 L1278.97,504.21 L1279.17,502.03 L1279.38,499.81 L1279.58,498.04 L1279.62,495.76 L1279.87,493.76 L1280.05,491.61 L1280.19,489.93 L1280.4,487.6 L1281.9,487.6 L1282.08,489.88 L1282.37,491.88 L1282.52,494.27 L1282.73,496.32 L1282.88,498.04 L1283.18,499.82 L1283.43,501.94 L1283.6,504.13 L1283.86,506.55 L1284.0,508.6 L1284.83,510.37 L1285.4,512.52 L1285.83,513.32 L1286.6,515.7 L1287.6,513.39 L1288.45,511.95 L1289.0,511.0 L1289.26,508.55 L1289.7,507.15 L1289.97,504.79 L1290.28,502.88 L1290.67,500.14 L1290.9,498.48 L1291.3,496.2 L1292.18,496.11 L1293.6,494.6 L1293.91,496.28 L1294.3,498.25 L1294.64,500.01 L1295.04,502.05 L1295.37,503.81 L1295.71,506.4 L1296.0,507.9 L1296.7,505.62 L1297.46,505.6 L1298.3,504.0 L1299.08,505.65 L1300.2,507.1 L1300.53,505.19 L1301.04,503.28 L1301.43,501.14 L1301.85,499.26 L1302.2,497.7 L1303.8,498.5 L1304.24,501.07 L1304.62,502.82 L1304.89,504.82 L1305.3,507.1 L1307.4,507.09 L1309.2,507.1 L1309.59,508.71 L1309.85,511.31 L1310.19,512.98 L1310.5,514.9 L1311.95,515.29 L1313.9,517.2 L1315.31,517.28 L1317.0,515.7 L1318.41,516.28 L1319.4,518.0 L1321.6,517.02 L1323.3,518.0 L1323.78,516.51 L1324.2,514.61 L1324.71,511.98 L1325.11,510.44 L1325.6,508.6 L1327.0,510.31 L1328.7,511.0 L1329.71,512.0 L1331.1,511.8 L1331.68,509.32 L1332.54,507.8 L1333.23,507.68 L1333.9,505.5 L1334.28,507.51 L1334.55,509.59 L1334.92,511.74 L1335.28,513.73 L1335.7,515.7 L1336.68,514.14 L1337.93,512.39 L1338.9,511.8 L1339.6,513.88 L1340.7,514.1 L1341.16,513.1 L1342.04,510.62 L1342.17,508.09 L1343.17,506.42 L1343.5,505.5 L1344.7,507.13 L1345.9,508.6 L1347.22,508.18 L1349.0,507.9 L1349.35,506.15 L1349.8,504.24 L1350.15,502.49 L1350.6,500.8 L1351.2,501.79 L1351.99,505.13 L1352.93,506.95 L1353.7,507.9 L1354.18,510.36 L1355.23,511.58 L1356.0,512.5 L1357.99,512.9 L1359.9,512.5 L1360.12,514.81 L1360.38,516.5 L1360.7,518.8 L1361.57,517.38 L1363.0,516.4 L1363.98,517.8 L1365.17,519.19 L1365.9,521.9 L1367.08,520.04 L1368.22,519.9 L1369.3,518.0 L1369.45,515.63 L1369.49,514.08 L1369.72,511.61 L1369.78,510.16 L1369.92,507.87 L1370.04,505.97 L1370.1,504.0 L1371.12,501.14 L1371.9,500.15 L1372.4,498.5 L1373.89,498.43 L1375.5,500.1 L1376.55,500.59 L1377.9,500.1 L1378.14,497.91 L1378.3,496.0 L1378.49,494.16 L1378.73,492.9 L1379.05,490.84 L1379.18,488.7 L1379.4,486.8 L1380.37,488.96 L1381.15,489.69 L1381.8,490.7 L1383.3,489.1 L1383.39,491.16 L1383.63,493.24 L1383.65,495.13 L1383.83,496.62 L1384.06,499.0 L1384.16,500.49 L1384.32,503.12 L1384.4,504.7 L1384.81,502.77 L1385.15,500.68 L1385.46,498.23 L1385.85,496.39 L1386.21,493.84 L1386.57,491.9 L1386.92,489.41 L1387.2,487.6 L1387.67,485.97 L1387.96,484.13 L1388.36,481.72 L1388.8,480.1 L1389.24,481.15 L1389.73,484.16 L1390.2,484.9 L1390.27,487.21 L1390.26,489.41 L1390.36,491.47 L1390.42,493.72 L1390.37,495.24 L1390.45,498.01 L1390.44,499.94 L1390.5,502.0 L1391.85,504.22 L1392.8,505.2 L1393.04,507.13 L1393.36,508.75 L1393.81,510.95 L1394.1,512.92 L1394.4,514.9 L1394.83,512.5 L1395.38,512.02 L1396.0,509.5 L1397.5,508.0 L1398.62,506.89 L1400.3,506.3 L1401.32,507.98 L1402.2,510.54 L1403.0,511.7 L1405.1,511.7 L1405.41,513.99 L1405.76,516.24 L1406.2,518.1 L1406.71,519.22 L1407.87,521.01 L1408.3,522.9 L1409.03,522.45 L1410.17,521.19 L1411.0,519.1 L1412.0,517.5 L1413.41,515.91 L1414.2,514.3 L1416.39,514.2 L1418.0,515.4 L1419.25,516.54 L1420.1,519.1 L1421.17,518.6 L1422.2,520.2 L1423.11,523.03 L1424.4,524.0 L1424.79,522.38 L1425.16,520.13 L1425.54,518.42 L1426.0,516.5 L1426.58,514.49 L1427.03,512.81 L1427.64,510.56 L1428.1,508.4 L1428.95,509.21 L1430.3,509.5 L1431.5,509.23 L1432.68,507.37 L1434.0,505.8 L1434.61,507.14 L1435.08,509.37 L1435.6,510.6 L1436.94,511.65 L1437.8,512.7 L1438.13,511.05 L1438.43,508.88 L1438.88,506.6 L1439.19,504.71 L1439.61,502.64 L1439.9,500.4 L1440.58,501.39 L1440.86,503.57 L1441.5,506.3 L1442.31,508.92 L1442.35,510.08 L1443.1,511.7 L1443.67,508.87 L1444.09,508.47 L1444.76,505.61 L1445.2,504.2 L1445.78,501.89 L1446.27,499.87 L1446.8,497.8 L1448.35,499.88 L1449.52,501.7 L1450.6,503.1 L1452.13,504.32 L1453.8,503.6 L1454.05,501.74 L1454.2,499.28 L1454.47,497.81 L1454.73,495.39 L1454.9,493.5 L1454.84,491.38 L1454.96,488.95 L1454.9,487.1 L1456.64,485.86 L1458.1,486.0 L1458.52,486.66 L1459.05,488.95 L1459.7,490.8 L1460.51,489.8 L1460.58,486.47 L1461.3,484.9 L1461.45,482.51 L1461.44,480.58 L1461.49,478.3 L1461.62,476.27 L1461.79,474.04 L1461.8,472.1 L1461.83,470.43 L1461.94,468.36 L1462.05,466.3 L1462.07,463.76 L1462.22,462.01 L1462.26,460.17 L1462.37,457.82 L1462.4,456.0 L1462.48,454.35 L1462.6,451.82 L1462.7,450.0 L1462.77,447.63 L1462.85,445.28 L1462.91,443.56 L1462.88,441.7 L1462.92,438.95 L1462.94,437.04 L1463.11,434.98 L1463.1,432.93 L1463.11,430.34 L1463.24,428.73 L1463.29,426.33 L1463.37,423.91 L1463.45,422.04 L1463.4,419.58 L1463.53,417.37 L1463.48,415.65 L1463.59,413.18 L1463.66,411.34 L1463.63,408.7 L1463.67,406.59 L1463.79,404.8 L1463.87,402.4 L1463.88,400.23 L1463.91,398.29 L1464.05,396.12 L1464.0,393.81 L1464.15,391.5 L1464.22,389.67 L1464.25,387.44 L1464.29,385.32 L1464.26,383.0 L1464.4,380.76 L1464.38,378.14 L1464.49,376.61 L1464.49,373.93 L1464.53,371.66 L1464.66,370.23 L1464.73,367.55 L1464.76,365.14 L1464.84,363.19 L1464.76,361.28 L1464.83,358.81 L1464.87,356.79 L1465.0,354.92 L1464.97,352.78 L1465.03,350.1 L1465.17,348.03 L1465.2,346.0 L1465.48,348.16 L1465.77,350.45 L1466.08,352.59 L1466.49,354.43 L1466.67,356.73 L1466.98,358.6 L1467.36,360.33 L1467.7,362.99 L1468.0,364.82 L1468.3,367.0 L1468.37,364.9 L1468.39,362.96 L1468.57,360.73 L1468.63,358.15 L1468.7,355.76 L1468.68,353.63 L1468.75,351.92 L1468.85,349.55 L1468.86,347.15 L1468.93,345.05 L1468.96,343.26 L1469.08,340.83 L1469.09,338.88 L1469.16,336.33 L1469.28,334.52 L1469.41,332.38 L1469.4,330.0 L1469.47,328.22 L1469.44,325.91 L1469.33,323.34 L1469.32,321.76 L1469.44,319.43 L1469.36,317.06 L1469.35,315.16 L1469.48,312.75 L1469.33,310.5 L1469.38,308.97 L1469.45,306.46 L1469.34,304.03 L1469.34,302.46 L1469.4,300.5 L1469.47,298.2 L1469.4,296.09 L1469.34,293.35 L1469.41,291.55 L1469.35,289.2 L1469.32,287.62 L1469.43,285.51 L1469.4,283.0 L1469.86,284.95 L1470.2,286.9 L1470.59,289.29 L1470.86,290.59 L1471.3,293.0 L1471.36,290.99 L1471.5,288.42 L1471.68,286.99 L1471.73,284.28 L1471.9,282.61 L1471.88,280.35 L1472.08,278.74 L1472.16,276.45 L1472.23,274.03 L1472.45,272.07 L1472.43,270.16 L1472.6,268.0 L1472.75,265.56 L1473.02,263.7 L1473.26,261.61 L1473.44,258.89 L1473.7,256.69 L1473.87,254.79 L1474.12,252.87 L1474.3,250.5 L1474.36,252.54 L1474.53,254.31 L1474.54,256.59 L1474.72,257.8 L1474.76,260.49 L1474.9,262.0 L1474.93,259.91 L1475.1,258.27 L1475.15,256.2 L1475.2,254.0 L1475.22,255.81 L1475.46,258.56 L1475.4,260.08 L1475.53,262.98 L1475.62,264.91 L1475.82,267.04 L1475.91,268.88 L1475.88,270.83 L1476.07,273.05 L1476.2,275.71 L1476.17,277.95 L1476.25,279.86 L1476.4,282.0 L1476.44,284.24 L1476.66,286.35 L1476.62,288.3 L1476.81,290.27 L1476.9,292.1 L1477.02,294.25 L1477.03,295.63 L1477.21,297.82 L1477.28,299.59 L1477.4,302.0 L1477.48,299.53 L1477.54,298.12 L1477.52,295.47 L1477.6,293.47 L1477.6,291.32 L1477.73,289.61 L1477.68,287.16 L1477.78,285.72 L1477.84,283.02 L1477.81,281.12 L1477.91,278.92 L1477.93,277.54 L1478.0,274.66 L1478.0,273.0 L1478.0,274.83 L1478.16,277.4 L1478.19,279.44 L1478.24,281.73 L1478.34,284.15 L1478.42,286.2 L1478.51,288.4 L1478.54,289.88 L1478.6,292.73 L1478.63,294.91 L1478.65,297.12 L1478.75,299.08 L1478.79,300.9 L1478.87,303.08 L1478.89,305.34 L1479.1,307.67 L1479.15,309.92 L1479.2,312.28 L1479.25,313.83 L1479.23,316.11 L1479.26,318.11 L1479.4,320.5 L1479.51,318.7 L1479.48,316.42 L1479.6,314.37 L1479.66,311.92 L1479.6,310.01 L1479.68,307.69 L1479.74,305.47 L1479.89,303.0 L1479.87,301.26 L1479.93,299.35 L1479.96,297.17 L1480.06,295.07 L1480.01,292.28 L1480.1,290.71 L1480.1,288.02 L1480.27,286.48 L1480.24,283.86 L1480.37,281.92 L1480.43,279.82 L1480.4,277.25 L1480.42,275.46 L1480.5,272.95 L1480.6,271.0 L1480.75,273.19 L1480.76,275.27 L1480.83,277.38 L1480.85,278.92 L1480.89,280.95 L1481.01,283.13 L1481.04,285.49 L1481.25,287.73 L1481.21,289.87 L1481.26,291.38 L1481.35,293.71 L1481.49,295.81 L1481.57,297.59 L1481.6,300.0 L1481.75,297.79 L1481.81,295.45 L1481.88,293.54 L1481.96,291.95 L1482.01,289.43 L1481.98,287.28 L1482.2,285.17 L1482.24,283.46 L1482.32,281.04 L1482.31,278.89 L1482.52,277.06 L1482.55,275.14 L1482.6,273.0 L1482.63,274.77 L1482.68,277.56 L1482.78,279.78 L1482.89,281.71 L1482.94,283.9 L1483.03,285.68 L1483.16,287.59 L1483.19,290.3 L1483.28,292.08 L1483.43,294.08 L1483.42,296.21 L1483.53,298.47 L1483.65,300.69 L1483.76,302.46 L1483.81,305.26 L1483.82,306.71 L1483.93,308.91 L1484.01,311.55 L1484.1,313.5 L1484.08,311.06 L1484.19,309.0 L1484.2,307.1 L1484.22,304.68 L1484.31,302.9 L1484.45,300.85 L1484.35,298.46 L1484.51,296.63 L1484.57,294.85 L1484.62,292.02 L1484.68,290.25 L1484.61,287.84 L1484.76,285.76 L1484.68,283.69 L1484.86,281.74 L1484.88,279.3 L1484.88,277.39 L1484.88,275.56 L1484.95,272.99 L1485.1,271.18 L1485.02,268.67 L1485.14,266.97 L1485.09,264.82 L1485.25,262.76 L1485.21,260.61 L1485.3,258.5 L1485.48,260.54 L1485.58,262.59 L1485.87,264.45 L1486.02,266.06 L1486.2,267.82 L1486.3,270.0 L1486.46,268.17 L1486.76,265.82 L1486.85,263.86 L1487.09,262.03 L1487.25,260.63 L1487.5,258.5 L1487.54,261.06 L1487.55,263.03 L1487.52,265.45 L1487.58,267.24 L1487.66,269.82 L1487.68,272.05 L1487.74,273.59 L1487.8,275.77 L1487.86,278.17 L1487.77,280.78 L1487.81,282.51 L1487.85,284.92 L1487.83,286.86 L1487.88,289.43 L1487.89,291.44 L1487.96,293.5 L1488.04,295.9 L1488.0,297.7 L1488.03,300.49 L1488.06,301.99 L1488.16,304.55 L1488.24,306.3 L1488.17,308.58 L1488.26,311.01 L1488.26,313.57 L1488.33,315.73 L1488.41,317.43 L1488.44,319.73 L1488.4,322.0 L1488.43,320.29 L1488.54,317.47 L1488.67,315.64 L1488.87,314.06 L1488.89,311.71 L1489.06,309.88 L1489.12,307.57 L1489.14,305.28 L1489.33,303.51 L1489.45,301.71 L1489.57,299.05 L1489.53,297.58 L1489.71,294.92 L1489.83,292.92 L1489.86,290.95 L1490.0,289.0 L1490.05,291.33 L1490.03,293.56 L1490.16,295.51 L1490.22,297.96 L1490.16,299.86 L1490.31,302.23 L1490.35,303.97 L1490.45,306.65 L1490.38,308.53 L1490.54,310.52 L1490.5,313.33 L1490.63,314.89 L1490.65,317.18 L1490.68,319.69 L1490.65,321.41 L1490.71,323.63 L1490.8,326.0" fill="none" stroke="#1f2a7a" stroke-width="5.1" stroke-linejoin="round" stroke-linecap="round"/>
<line x1="542.5" x2="591.5" y1="789.9" y2="789.9" stroke="#1f2a7a" stroke-width="5" stroke-linecap="round"/>
<text x="595.4" y="794.5" font-size="24.3" textLength="132" lengthAdjust="spacingAndGlyphs" fill="#000" stroke="#000" stroke-width="0.3">Kerosinpreis</text>
<text x="732.4" y="794.5" font-size="24.3" textLength="180.3" lengthAdjust="spacingAndGlyphs" fill="#000" stroke="#000" stroke-width="0.3">Nordwesteuropa</text>
<text x="917.8" y="794.5" font-size="24.3" textLength="50" lengthAdjust="spacingAndGlyphs" fill="#000" stroke="#000" stroke-width="0.3">(CIF)</text>
<text x="3.2" y="61.2" font-size="48" textLength="259" lengthAdjust="spacingAndGlyphs" fill="#000" stroke="#000" stroke-width="0.8" stroke-linejoin="round">Entwicklung</text>
<text x="277" y="61.2" font-size="48" textLength="277.5" lengthAdjust="spacingAndGlyphs" fill="#000" stroke="#000" stroke-width="0.8" stroke-linejoin="round">europäischer</text>
<text x="569.6" y="61.2" font-size="48" textLength="292.2" lengthAdjust="spacingAndGlyphs" fill="#000" stroke="#000" stroke-width="0.8" stroke-linejoin="round">Kerosinpreise</text>
<text x="2.6" y="104.2" font-size="31.6" textLength="343" lengthAdjust="spacingAndGlyphs" fill="#000" stroke="#000" stroke-width="0.3">Angabe in USD je Tonne</text>
<text x="4" y="846" font-size="17.8" textLength="399.3" lengthAdjust="spacingAndGlyphs" fill="#000" stroke="#000" stroke-width="0.25">Quelle: LSEG Datastream, Stand: 14. April 2026;</text>
<text x="409" y="846" font-size="17.8" textLength="344.5" lengthAdjust="spacingAndGlyphs" fill="#000" stroke="#000" stroke-width="0.25">die bisherige Wertentwicklung lässt keine</text>
<text x="759" y="846" font-size="17.8" textLength="703.7" lengthAdjust="spacingAndGlyphs" fill="#000" stroke="#000" stroke-width="0.25">Rückschlüsse auf die künftige Wertentwicklung zu. Die Wertentwicklung bezieht sich</text>
<text x="4" y="868.2" font-size="17.8" textLength="469.5" lengthAdjust="spacingAndGlyphs" fill="#000" stroke="#000" stroke-width="0.25">auf einen Nominalwert, der auf Kursgewinnen/-verlusten</text>
<text x="479" y="868.2" font-size="17.8" textLength="368.8" lengthAdjust="spacingAndGlyphs" fill="#000" stroke="#000" stroke-width="0.25">beruht und die Inflation nicht berücksichtigt.</text>
<text x="853.3" y="868.2" font-size="17.8" textLength="540.7" lengthAdjust="spacingAndGlyphs" fill="#000" stroke="#000" stroke-width="0.25">Die Inflation wirkt sich negativ auf die Kaufkraft dieses nominalen</text>
<text x="4" y="890.2" font-size="17.8" textLength="495.5" lengthAdjust="spacingAndGlyphs" fill="#000" stroke="#000" stroke-width="0.25">Geldwerts aus. Je nach aktuellem Inflationsniveau kann dies</text>
<text x="505" y="890.2" font-size="17.8" textLength="235.2" lengthAdjust="spacingAndGlyphs" fill="#000" stroke="#000" stroke-width="0.25">zu einem realen Wertverlust</text>
<text x="745.7" y="890.2" font-size="17.8" textLength="602" lengthAdjust="spacingAndGlyphs" fill="#000" stroke="#000" stroke-width="0.25">führen, selbst wenn die nominale Wertentwicklung der Anlage positiv ist.</text>
</svg>
</body></html>
